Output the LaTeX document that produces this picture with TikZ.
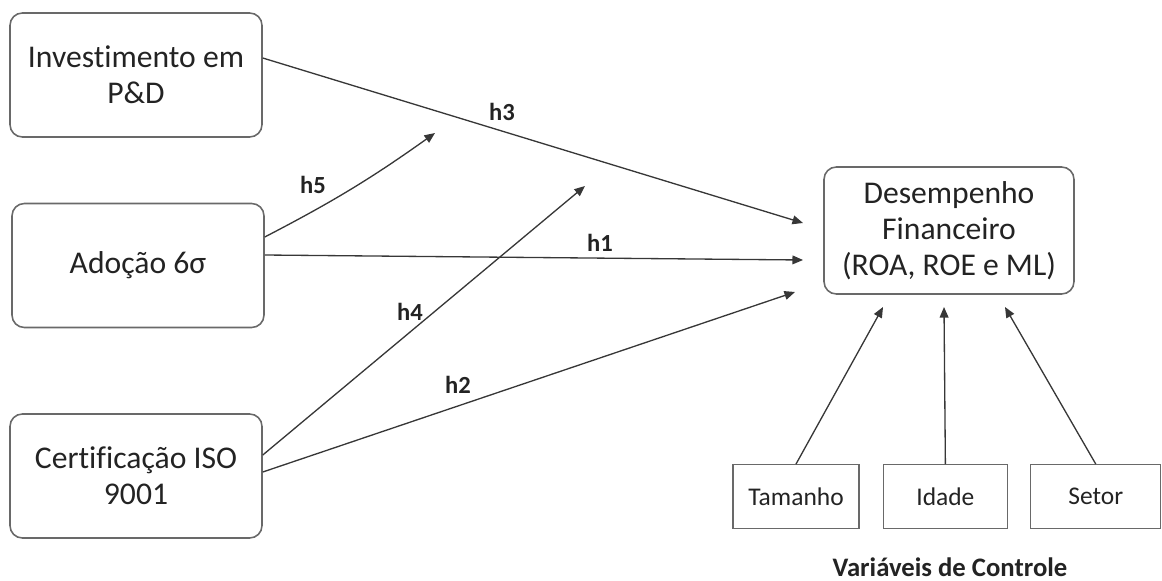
\documentclass[tikz,border=0pt]{standalone}
\usepackage{fontspec}
\setmainfont{Carlito}[Ligatures={NoCommon,NoRequired,NoContextual},Contextuals={NoAlternate}]
\usetikzlibrary{arrows.meta,positioning}
\definecolor{LineGray}{RGB}{55,55,55}
\definecolor{BoxGray}{RGB}{105,105,105}
\definecolor{TextGray}{RGB}{35,35,35}

\begin{document}
\begin{tikzpicture}[x=0.02cm,y=-0.02cm,
    var/.style={draw=BoxGray,line width=0.9pt,rounded corners=7pt,align=center,text=TextGray,
                font=\fontsize{18}{20.5}\selectfont,minimum width=5.04cm,minimum height=2.48cm},
    ctrl/.style={draw=BoxGray,line width=0.8pt,text=TextGray,
                 font=\fontsize{14.5}{17}\selectfont,minimum height=1.27cm},
    hyp/.style={font=\bfseries\fontsize{14}{16}\selectfont,text=TextGray},
    arr/.style={-{Triangle[length=6pt,width=5pt]},LineGray,line width=0.75pt}
  ]
    \useasboundingbox (0,0) rectangle (1162,581);
    % constructs
    \node[var] (inv) at (136,75) {Investimento em\\P\&D};
    \node[var] (six) at (138,265.5) {Adoção 6σ};
    \node[var] (iso) at (136,476) {Certificação ISO\\9001};
    \node[var,minimum width=5cm,minimum height=2.54cm] (des) at (949,230.5)
         {Desempenho\\Financeiro\\(ROA, ROE e ML)};
    % control variables
    \node[ctrl,minimum width=2.52cm] (tam) at (796,496.5) {Tamanho};
    \node[ctrl,minimum width=2.48cm,right=0.46cm of tam] (ida) {Idade};
    \node[ctrl,minimum width=2.6cm,right=0.44cm of ida] (set) {Setor};
    \node[font=\bfseries\fontsize{15.2}{17}\selectfont,text=TextGray] (ctl) at (950,567) {Variáveis de Controle};
    % arrow ends
    \coordinate (t3) at (803,223);
    \coordinate (t1) at (803,260);
    \coordinate (t2) at (795,292);
    \coordinate (t5) at (435,133);
    \coordinate (t4) at (585,186);
    \coordinate (tt) at (883,307);
    \coordinate (ti) at (944,307);
    \coordinate (ts) at (1005,307);
    % hypotheses
    \draw[arr] ([yshift=0.34cm]inv.east) -- (t3);
    \draw[arr] ([yshift=0.21cm]six.east) -- (t1);
    \draw[arr] ([yshift=0.08cm]iso.east) -- (t2);
    \draw[arr] ([yshift=0.57cm]six.east) to[bend right=4] (t5);
    \draw[arr] ([yshift=0.42cm]iso.east) -- (t4);
    \draw[arr] (tam.north) -- (tt);
    \draw[arr] (ida.north) -- (ti);
    \draw[arr] (set.north) -- (ts);
    \node[hyp] (lh3) at (502,112) {h3};
    \node[hyp] (lh5) at (313,185) {h5};
    \node[hyp] (lh1) at (600,243) {h1};
    \node[hyp] (lh4) at (410,312) {h4};
    \node[hyp] (lh2) at (458,385) {h2};
\end{tikzpicture}
\end{document}
